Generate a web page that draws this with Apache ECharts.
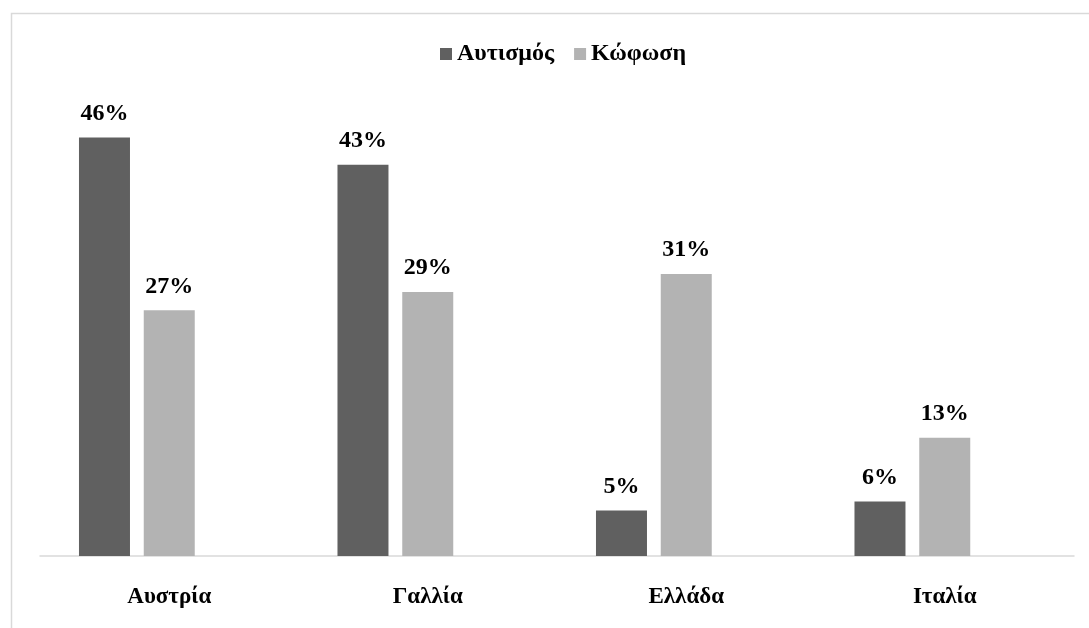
<!DOCTYPE html>
<html>
<head>
<meta charset="utf-8">
<script src="https://cdn.jsdelivr.net/npm/echarts@6/dist/echarts.min.js"></script>
<style>
html,body{margin:0;padding:0;background:#fff;}
#c{width:1089px;height:628px;}
</style>
</head>
<body>
<div id="c"></div>
<script>
const categories = ['Αυστρία', 'Γαλλία', 'Ελλάδα', 'Ιταλία'];
const autism = [46, 43, 5, 6];
const deafness = [27, 29, 31, 13];
const emptySeries = [null, null, null, null];
const seriesNames = ['Αυτισμός', 'Κώφωση'];

const chart = echarts.init(document.getElementById('c'));
const font = '"Liberation Serif", "Times New Roman", serif';
const labelStyle = {
  show: true, position: 'top', distance: 12,
  formatter: p => p.value + '%',
  fontFamily: font, fontWeight: 'bold', fontSize: 24, color: '#000'
};
chart.setOption({
  animation: false,
  graphic: [{
    type: 'rect', silent: true,
    shape: { x: 11.5, y: 13.5, width: 1100, height: 700 },
    style: { fill: 'none', stroke: '#d9d9d9', lineWidth: 1.5 }
  }],
  legend: {
    left: 435, top: 37,
    itemWidth: 12, itemHeight: 12, itemGap: 20,
    icon: 'rect',
    textStyle: { fontFamily: font, fontWeight: 'bold', fontSize: 24, color: '#000' },
    data: seriesNames
  },
  grid: { left: 40, right: 15, top: 101, bottom: 72 },
  xAxis: {
    type: 'category', data: categories,
    axisLine: { lineStyle: { color: '#d9d9d9', width: 1.5 } },
    axisTick: { show: false },
    axisLabel: { margin: 30, fontFamily: font, fontWeight: 'bold', fontSize: 23, color: '#000' }
  },
  yAxis: {
    type: 'value', min: 0, max: 50,
    show: false, splitLine: { show: false }
  },
  series: [
    { name: seriesNames[0], type: 'bar', data: autism, barWidth: 51, barGap: '27%',
      itemStyle: { color: '#606060' }, label: labelStyle },
    { name: seriesNames[1], type: 'bar', data: deafness, barWidth: 51, barGap: '27%',
      itemStyle: { color: '#b3b3b3' }, label: labelStyle },
    { name: 'hidden', type: 'bar', data: emptySeries, barWidth: 51, barGap: '27%',
      itemStyle: { color: 'transparent' } }
  ]
});
</script>
</body>
</html>
